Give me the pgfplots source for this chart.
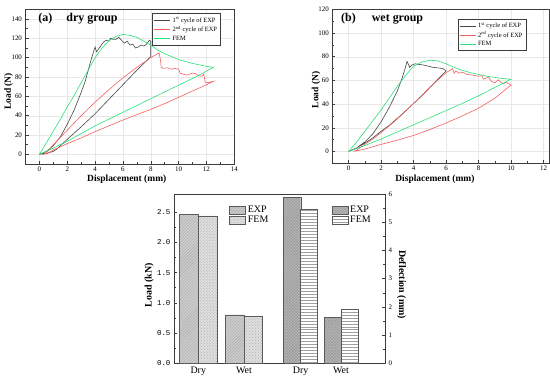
\documentclass[border=0pt]{standalone}
\usepackage{fontspec}
\setmainfont{Liberation Serif}
\newfontfamily\monofont{Liberation Mono}
\usepackage{pgfplots}
\pgfplotsset{compat=1.18}
\usetikzlibrary{patterns}
\definecolor{cblack}{RGB}{70,70,70}
\definecolor{cred}{RGB}{242,95,95}
\definecolor{cgreen}{RGB}{40,225,120}
\definecolor{framec}{RGB}{60,60,60}
\definecolor{bedge}{RGB}{90,90,90}

\pgfplotsset{
 curveaxis/.style={
   scale only axis, anchor=south west,
   tick align=inside, tick pos=left,
   minor x tick num=1, minor y tick num=1,
   grid=major, major grid style={gray!18, line width=0.3pt},
   axis line style={framec, line width=0.8pt},
   every tick/.style={framec, line width=0.5pt},
   major tick length=3bp, minor tick length=2bp,
   /pgf/number format/assume math mode=true,
   tick label style={font=\fontsize{7}{8}\selectfont},
   x tick label style={yshift=1bp},
   xlabel style={font=\bfseries\fontsize{9.5}{11}\selectfont, anchor=center},
   ylabel style={font=\bfseries\fontsize{9.5}{11}\selectfont, anchor=center},
   legend style={font=\fontsize{6.5}{7}\selectfont, draw=framec, line width=0.6pt, anchor=north west, inner sep=1.5bp, row sep=-1.5bp, fill=white},
   legend cell align=left,
   legend image code/.code={\draw[#1, line width=0.6pt] (0bp,0bp) -- (16bp,0bp);},
   every axis plot/.append style={line width=0.6pt, mark=none},
 },
 baraxis/.style={
   scale only axis, anchor=south west, width=211bp, height=169.3bp,
   xmin=0, xmax=211,
   tick align=inside,
   axis line style={framec, line width=0.8pt},
   every tick/.style={framec, line width=0.5pt},
   major tick length=3bp, minor tick length=2bp,
   /pgf/number format/assume math mode=true,
   ylabel style={font=\bfseries\fontsize{10}{12}\selectfont, anchor=center},
 }
}

\begin{document}
\begin{tikzpicture}

% ---------------- (a) dry group ----------------
\begin{axis}[curveaxis, at={(25.5bp,217bp)}, width=208.8bp, height=154.7bp,
  xmin=-1, xmax=14, ymin=-10, ymax=150,
  xtick={0,2,...,14}, ytick={0,20,...,140},
  xlabel={Displacement (mm)}, ylabel={Load (N)},
  xlabel style={at={(rel axis cs:0.485,-0.096)}},
  ylabel style={at={(rel axis cs:-0.0805,0.469)}},
  legend style={at={(rel axis cs:0.607,0.974)}},
]
\addplot[cblack] coordinates {
(0,0) (0.3,1.5) (0.6,4) (1,9) (1.5,18) (2,31) (2.5,46) (3,64) (3.3,76) (3.6,92) (3.8,102) (4,111)
(4.1,106) (4.3,110) (4.6,116) (4.8,118) (5,117) (5.1,120) (5.3,119) (5.5,119) (5.7,121)
(5.9,118) (6.1,115) (6.3,117) (6.5,113) (6.7,114) (6.9,110) (7.1,111) (7.3,113) (7.5,112)
(7.7,114) (7.9,118) (8.0,117) (8.0,101) (7,87) (6,72) (5,57) (4,42) (3,28.5) (2,15.5)
(1.3,6) (1,3) (0.5,1) (0,0)};
\addlegendentry{1\textsuperscript{st} cycle of EXP}
\addplot[cred] coordinates {
(0.3,0) (0.6,3) (1,10) (2,25) (3,40) (4,54) (5,67) (6,79) (7,90) (8,100) (8.3,102.5) (8.6,105)
(8.7,97) (8.75,90) (8.9,89) (9.2,89.5) (9.5,88) (9.7,89) (10,88) (10.1,84) (10.3,83) (10.6,82)
(11,84) (11.2,83.5) (11.5,81) (11.7,81) (11.8,83) (11.9,75) (12,74) (12.5,75.5)
(12,72) (11,65.5) (10,59) (9,52.5) (8,46.5) (7,41) (6,35.5) (5,29.5) (4,23.5) (3,17) (2,11) (1,4.5) (0.6,1) (0.3,0) (0,1)};
\addlegendentry{2\textsuperscript{nd} cycle of EXP}
\addplot[cgreen] coordinates {
(0,0) (0.5,12) (1,24) (1.5,36) (2,49) (2.5,61) (3,74) (3.5,87) (4,100) (4.5,110) (5,117.5)
(5.5,122) (6,124) (6.5,123) (7,121) (7.5,117) (8,113) (8.5,108) (9,104) (9.5,101) (10,98)
(10.5,96) (11,94) (11.5,92.5) (12,91) (12.5,90)
(12,86) (11,78.5) (10,71.5) (9,64.5) (8,57.5) (7,50.5) (6,43.5) (5,36.5) (4,29.5) (3,21.5) (2,13.5) (1,6.5) (0,0)};
\addlegendentry{FEM}
\node[anchor=west, font=\bfseries\fontsize{12}{14}\selectfont] at (rel axis cs:0.045,0.937) {(a)\hspace{14bp}dry group};
\end{axis}

% ---------------- (b) wet group ----------------
\begin{axis}[curveaxis, at={(332.3bp,217.7bp)}, width=217bp, height=154bp,
  xmin=-1, xmax=12.35, ymin=-10, ymax=120,
  xtick={0,2,...,12}, ytick={0,20,...,120},
  xlabel={Displacement (mm)}, ylabel={Load (N)},
  xlabel style={at={(rel axis cs:0.473,-0.104)}},
  ylabel style={at={(rel axis cs:-0.075,0.476)}},
  legend style={at={(rel axis cs:0.578,0.937)}},
]
\addplot[cblack] coordinates {
(0,0) (0.5,3) (1,8) (1.5,15) (2,25) (2.5,37) (3,51) (3.3,62) (3.5,71) (3.6,76) (3.7,73)
(3.75,71) (3.9,73) (4.1,74) (4.3,73.5) (4.6,73) (4.9,72) (5.2,71) (5.5,70.5) (5.8,70) (6,68)
(5.5,61) (5,54) (4.5,47) (4,40.5) (3.5,34) (3,28) (2.5,22) (2,17) (1.5,11.5) (1,7) (0.5,3) (0,0)};
\addlegendentry{1\textsuperscript{st} cycle of EXP}
\addplot[cred] coordinates {
(0.3,0) (0.5,1) (1,6) (1.5,10.5) (2,16) (2.5,21.5) (3,27.5) (3.5,34) (4,40.5) (4.5,47) (5,54)
(5.5,60.5) (6,66.5) (6.3,69) (6.4,70) (6.5,66) (6.6,68) (6.8,66) (7,67) (7.3,65) (7.6,64.5)
(8,63.5) (8.2,64) (8.3,61) (8.5,62) (8.6,63) (8.8,59) (9,58) (9.2,60.5) (9.4,58) (9.5,57)
(9.7,58.5) (10,56)
(9,45) (8,36.5) (7,30) (6,24) (5,18.5) (4,13.5) (3,9.5) (2,6) (1,2) (0.3,0)};
\addlegendentry{2\textsuperscript{nd} cycle of EXP}
\addplot[cgreen] coordinates {
(0,0) (0.5,8) (1,17) (1.5,26) (2,35) (2.5,45) (3,55) (3.5,64) (4,72) (4.5,75.5) (5,77)
(5.5,76.5) (6,74) (6.5,71) (7,68.5) (7.5,66.5) (8,65) (8.5,63.5) (9,62.5) (9.5,61.5) (10,61)
(9,54) (8,47) (7,40.5) (6,34.5) (5,28.5) (4,22.5) (3,16.5) (2,10.5) (1,5) (0,0)};
\addlegendentry{FEM}
\node[anchor=west, font=\bfseries\fontsize{12}{14}\selectfont] at (rel axis cs:0.025,0.94) {(b)\hspace{16bp}wet group};
\end{axis}

% ---------------- (c) bars, left axis ----------------
\begin{axis}[baraxis, at={(174bp,17.7bp)},
  ymin=0, ymax=2.8,
  xtick={24.3,70,126.7,167}, xticklabels={Dry,Wet,Dry,Wet},
  x tick label style={font=\fontsize{10}{12}\selectfont},
  xtick style={draw=none},
  ytick={0,0.5,...,2.5}, minor y tick num=1, ytick pos=left,
  y tick label style={font=\monofont\fontsize{7.5}{9}\selectfont, /pgf/number format/.cd, fixed, fixed zerofill, precision=1},
  ylabel={Load (kN)},
  ylabel style={at={(rel axis cs:-0.117,0.462)}},
  legend style={at={(rel axis cs:0.262,0.941)}, anchor=north west, draw=none, fill=none, font=\fontsize{10}{11}\selectfont, inner sep=0bp, row sep=-2bp},
  legend cell align=left,
  legend image code/.code={\draw[#1] (0bp,-4bp) rectangle (16bp,4bp);},
]
\addplot[ybar, bar width=19, bar shift=0pt, fill=gray!38, draw=bedge, postaction={pattern=north east lines, pattern color=gray!70}] coordinates {(14.8,2.46) (60.5,0.80)};
\addlegendentry{EXP}
\addplot[ybar, bar width=18.5, bar shift=0pt, fill=gray!25, draw=bedge, postaction={pattern=crosshatch dots, pattern color=gray!65}] coordinates {(33.5,2.44) (79.4,0.78)};
\addlegendentry{FEM}
\node[anchor=center, font=\bfseries\fontsize{11}{13}\selectfont] at (rel axis cs:-0.129,0.96) {(c)};
\end{axis}

% ---------------- (c) bars, right axis ----------------
\begin{axis}[baraxis, at={(174bp,17.7bp)},
  ymin=0, ymax=6,
  axis y line*=right, axis x line=none,
  ytick={0,1,...,6}, minor y tick num=1,
  y tick label style={font=\fontsize{7}{8}\selectfont},
  ylabel={Deflection (mm)}, ylabel style={rotate=180, at={(rel axis cs:1.079,0.464)}},
  legend style={at={(rel axis cs:0.747,0.941)}, anchor=north west, draw=none, fill=none, font=\fontsize{10}{11}\selectfont, inner sep=0bp, row sep=-2bp},
  legend cell align=left,
  legend image code/.code={\draw[#1] (0bp,-4bp) rectangle (16bp,4bp);},
]
\addplot[ybar, bar width=17.4, bar shift=0pt, fill=gray!55, draw=bedge, postaction={pattern=crosshatch, pattern color=gray!80}] coordinates {(118,5.87) (159,1.64)};
\addlegendentry{EXP}
\addplot[ybar, bar width=16.5, bar shift=0pt, fill=white, draw=bedge, postaction={pattern=horizontal lines, pattern color=gray!75}] coordinates {(134.7,5.45) (175.7,1.91)};
\addlegendentry{FEM}
\end{axis}

\pgfresetboundingbox
\path[use as bounding box] (0bp,0bp) rectangle (550bp,381bp);
\end{tikzpicture}
\end{document}
